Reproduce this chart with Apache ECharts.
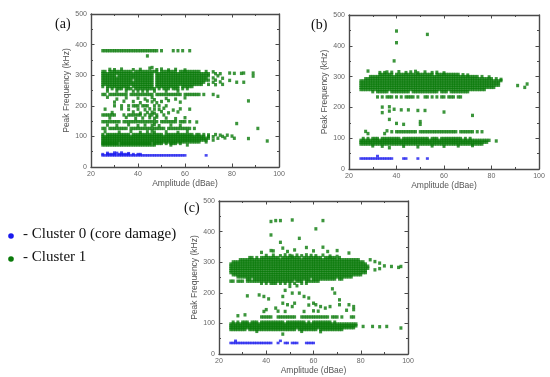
<!DOCTYPE html>
<html>
<head>
<meta charset="utf-8">
<script src="https://cdn.jsdelivr.net/npm/echarts@6/dist/echarts.min.js"></script>
<style>
html,body{margin:0;padding:0;background:#fff;}
#chart{width:550px;height:377px;}
</style>
</head>
<body>
<div id="chart"></div>
<script>
// ---------------- data ----------------
// Axis ticks
const xTicks = [20, 40, 60, 80, 100];
const yTicks = [0, 100, 200, 300, 400, 500];
const xTitle = 'Amplitude (dBae)';
const yTitle = 'Peak Frequency (kHz)';
const panelNames = ['(a)', '(b)', '(c)'];
const clusterNames = ['- Cluster 0 (core damage)', '- Cluster 1'];

// Dense hit rows: [frequency kHz, first amplitude dB, occupancy per 1 dB ('#' = hit, '.' = none, spaces ignored)]
const aGreenRows = [
  [380,25,"##### ##### ##### ##### ####"],
  [312,25,"##.## ##### ###.# ##### ####. ##### ##.## ##### ##"],
  [305,25,"##### ##### ##### ##### ##.## ##### ##### ##### ##### #"],
  [298,25,"##### #.### ##### ##### ##.## ##### ##### ##### ##### #"],
  [291,25,"##### ##### ##### ##### ##.## ##### ##### ##### #####"],
  [284,25,"##### ##### ###.# ##### ##.## ##### ##### ##### ##### #"],
  [277,25,"##### ##### ##### ##### ##.## ##### ##### ##### ####"],
  [270,25,"##### ##### ##### ##### ##.## ##### ##### ##### ###"],
  [263,25,"#.### ##### ##.## ##### ##.## ##### ###.# ####"],
  [256,27,"#.#.# ##.## #.### ##### #.#.# ##.## #.#.#"],
  [248,27,"#...# ...#. .#.#. #.#.. #.... #.... #"],
  [237,25,"##.## ##### #.### ##### ##.## ##### ####. ##### ##.#. ..#"],
  [200,30,"#..#. .#.## #.### ..#.# ..#"],
  [170,25,"##### #...# .#### ##.#. ##.#. .#"],
  [148,25,"##### ###.# ##### ##### ####. ##### ##.## #"],
  [126,25,"##.## ##### #.### ##### ##### ##.## ##### ###"],
  [106,25,"#.### ##### ##.## ##### ##### #.### ##### ####. ##"],
  [100,25,"##### ##### ##### ##### ##### ##### ##### ##### ####"],
  [94,25,"##### ##### ##### ##### ##### ##### ##### ##### ##### #"],
  [88,25,"##### ##### ##### ##### ##### ##### ##### ##### #####"],
  [82,25,"##### ##### ##### ##### ##### ##### ##### ##### ##"],
  [77,25,"##### ##.## ##### ##### #.### #.#.# ##.#"],
  [72,25,"##### ##### ##### ##### ###"]
];
const aGreenPoints = [
  [50,380],[55,380],[57,380],[59,380],[62,380],[44,363],
  [28,319],[30,318],[33,320],[38,318],[41,319],[45,323],[46,325],[48,318],[50,320],[53,317],[56,319],[60,317],
  [69,312],[72,311],[73,305],[75,305],[79,307],[81,306],[84,306],[85,307],[89,307],[74,298],[89,297],
  [72,291],[76,290],[73,284],[79,283],[72,277],[75,278],[82,277],[85,277],[70,270],[73,269],[76,270],[87,216],
  [27,228],[31,222],[35,226],[40,225],[43,222],[46,227],[47,220],[52,224],[56,222],[60,226],[74,231],
  [30,212],[34,215],[38,214],[41,210],[44,216],[46,213],[48,210],[50,214],[53,217],[58,212],
  [26,189],[33,190],[36,188],[40,189],[43,187],[45,190],[47,189],[49,188],[51,192],[55,186],[58,190],[62,189],
  [29,178],[38,180],[41,176],[44,178],[46,179],[47,176],[50,181],[53,177],[57,180],
  [28,160],[35,162],[39,158],[42,160],[45,161],[47,159],[48,163],[52,160],[56,158],[60,161],
  [62,148],[65,147],
  [27,137],[31,136],[36,138],[40,135],[43,137],[46,136],[47,139],[49,135],[54,137],[58,136],[82,142],
  [64,126],[91,126],
  [26,115],[32,114],[37,116],[41,113],[44,115],[46,117],[47,114],[52,115],[57,113],[61,116],
  [68,106],[70,105],[73,106],[75,104],[78,104],[70,100],[72,99],[76,100],[80,101],
  [74,94],[77,95],[81,94],[87,93],[72,88],[69,82],[95,85],[54,72],[61,72]
];
const aBlueRows = [
  [38,25,"##### ##### ##### ##### ##### ##### ##### #"],
  [42,25,"#.### #.### ##.#. ##"]
];
const aBluePoints = [[69,38],[27,46],[30,47],[31,46],[33,47],[36,45]];

const bGreenRows = [
  [307,33,"##### #.### ##### ##### ###.# ##### ####"],
  [300,29,"##### ##### ##### ##### ##### ##### ##### ##### ##### #"],
  [293,27,"##### ##### ##### ##### ##### ##### ##### ##### ##### ##### ####"],
  [286,25,"##### ##### ##### ##### ##### ##### ##### ##### ##### ##### ##### ####"],
  [279,25,"##### ##### ##### ##### ##### ##### ##### ##### ##### ##### ##### ####"],
  [272,25,"##### ##### ##### ##### ##### ##### ##### ##### ##### ##### ##### ####"],
  [265,25,"##### ##### ##### ##### ##### ##### ##### ##### ##### ##### ##### ##"],
  [258,25,"##### ##### ##### ##### ##### ##### ##### ##### ##### ##### ###"],
  [251,30,"#.### ##.## ##### #.### ##### ###.# ##.## ##### #"],
  [234,32,"#.#.# ##.#. #.### #.#.. ##.#. #.##. ###.# #"],
  [121,38,"#.### ##### #.### ##### ##### ###.# ##### .#.#."],
  [99,26,"#.#.# ##.## ##### #.### ##### ###.# ##.## ##### ##.#. #"],
  [93,25,"##### ##### ##### ##### ##### ##### ##### ##### ##### ##### #####"],
  [87,25,"##### ##### ##### ##### ##### ##### ##### ##### ##### ##### ####"],
  [81,25,"##### ##### ##### ##### ##### ##### ##### ##### ##### ##### ##"]
];
const bGreenPoints = [
  [40,448],[40,410],[53,437],[39,351],[28,318],[35,313],
  [33,313],[36,315],[38,314],[41,316],[44,313],[46,315],[48,317],[49,312],[52,315],[55,313],[57,314],[60,312],
  [68,306],[70,305],[76,300],[79,299],[82,293],[84,291],[84,287],[95,276],[91,271],[94,265],
  [34,201],[37,188],[39,194],[42,192],[45,192],[49,190],[52,190],[60,185],[72,174],[34,183],
  [37,161],[40,148],[43,145],[50,154],[50,145],[37,202],
  [27,122],[28,115],[35,115],[36,124],
  [82,91],
  [30,75],[34,74],[37,69],[43,74],[49,72],[55,75],[60,74],[66,75],[72,76]
];
const bBlueRows = [
  [34,25,"##### ##### ####"]
];
const bBluePoints = [[43,34],[44,34],[49,34],[53,34],[32,42]];

const cGreenRows = [
  [315,33,"##.#. ##### ###.# ##### ##.## ##### #.### ##.#."],
  [308,29,"##### ##### ##### ##### ##### ##### ##### ##### ##### ##### #"],
  [301,26,"##### ##### ##### ##### ##### ##### ##### ##### ##### ##### ##### #"],
  [294,25,"##### ##### ##### ##### ##### ##### ##### ##### ##### ##### ##### ###"],
  [287,25,"##### ##### ##### ##### ##### ##### ##### ##### ##### ##### ##### ####"],
  [280,25,"##### ##### ##### ##### ##### ##### ##### ##### ##### ##### ##### ####"],
  [273,25,"##### ##### ##### ##### ##### ##### ##### ##### ##### ##### ##### ###"],
  [266,25,"##### ##### ##### ##### ##### ##### ##### ##### ##### ##### ##### ###"],
  [259,26,"##### ##### ##### ##### ##### ##### ##### ##### ##### ##### #####"],
  [252,28,"##### ##### ##### ##### ##### ##### ##### ##### ##### ####"],
  [245,32,"##.## ##### ##### ##### ##### ##.## ##### ###.# #"],
  [238,25,"##.## #.### ##### ##### ##### ##.## #.### ###"],
  [231,38,"#.#.# ##.#. #.#.# ..#.# ."],
  [121,38,"##### ..### ##### ..### ##### ####. ###.# ...##"],
  [104,26,"#.#.# ##.## #.### ##### ##.## ##### #.#.# ##### ##.#. ."],
  [98,25,"##### ##### ##### ##### ##### ##### ##### ##### ##### ##### ####"],
  [92,25,"##### ##### ##### ##### ##### ##### ##### ##### ##### ##### ####"],
  [86,25,"##### ##### ##### ##### ##### ##### ##### ##### ##### ##### ###"],
  [80,25,"##### ##.## ##### ##### ##### ###.# ##### ##.## ##### ###"]
];
const cGreenPoints = [
  [42,433],[44,436],[46,436],[51,438],[64,436],[61,409],[42,389],[46,365],[54,378],[64,349],
  [38,332],[42,338],[43,337],[47,346],[49,335],[52,340],[57,348],[60,337],[66,335],[70,338],[75,330],
  [40,322],[43,323],[46,321],[48,324],[50,322],[51,320],[53,323],[55,321],[57,324],[59,322],[61,321],[64,323],[67,320],[70,319],
  [84,308],[86,302],[88,297],[90,288],[93,286],[96,283],[97,286],[86,275],[88,279],
  [32,190],[37,193],[39,188],[41,180],[40,145],[47,166],[49,161],[51,155],[52,166],[54,199],[56,188],[58,183],
  [60,166],[61,161],[63,155],[65,150],[47,188],[48,208],[51,199],[50,221],[53,223],[67,155],[44,150],[58,160],
  [62,140],[69,199],[71,177],[71,161],[75,161],[77,155],[68,213],[45,140],
  [28,125],[31,128],[39,139],[48,139],[56,139],[60,141],[74,143],[77,145],
  [81,90],[85,90],[88,89],[91,90],[97,85],[47,65],[36,74],[55,74],[63,73]
];
const cBlueRows = [
  [36,25,"##### ##### ##### ###.. #..## .###. ..### #"]
];
const cBluePoints = [[27,43],[46,43]];

// ---------------- build ----------------
function decodeRows(rows) {
  const out = [];
  rows.forEach(function (r) {
    const f = r[0], a0 = r[1], pat = r[2];
    let i = 0;
    for (const ch of pat) {
      if (ch === ' ') continue;
      if (ch === '#') out.push([a0 + i, f]);
      i++;
    }
  });
  return out;
}

const panels = [
  { green: decodeRows(aGreenRows).concat(aGreenPoints), blue: decodeRows(aBlueRows).concat(aBluePoints) },
  { green: decodeRows(bGreenRows).concat(bGreenPoints), blue: decodeRows(bBlueRows).concat(bBluePoints) },
  { green: decodeRows(cGreenRows).concat(cGreenPoints), blue: decodeRows(cBlueRows).concat(cBluePoints) }
];

const GREEN = '#0a7a0a';
const BLUE = '#1a1aee';
const AXIS = '#4a4a4a';
const LABEL = '#666';

const grids = [
  { left: 91, top: 14, width: 188, height: 153 },
  { left: 349, top: 15, width: 190, height: 154 },
  { left: 219, top: 201, width: 189, height: 153 }
];

const xMin = xTicks[0], xMax = xTicks[xTicks.length - 1], xInt = xTicks[1] - xTicks[0];
const yMin = yTicks[0], yMax = yTicks[yTicks.length - 1], yInt = yTicks[1] - yTicks[0];

const xAxes = [], yAxes = [], series = [];
grids.forEach(function (g, i) {
  const common = {
    gridIndex: i, type: 'value',
    splitLine: { show: false },
    axisLine: { show: true, onZero: false, lineStyle: { color: AXIS, width: 1.4 } },
    axisTick: { show: true, inside: true, length: 3.5, lineStyle: { color: AXIS, width: 1 } },
    minorTick: { show: true, splitNumber: 2, length: 2, lineStyle: { color: AXIS, width: 1 } },
    minorSplitLine: { show: false }
  };
  xAxes.push(Object.assign({}, common, {
    position: 'bottom', min: xMin, max: xMax, interval: xInt,
    axisLabel: { fontSize: 7, color: LABEL, margin: 4, fontFamily: 'Liberation Sans' },
    name: xTitle, nameLocation: 'middle', nameGap: 10,
    nameTextStyle: { fontSize: 8.5, color: '#555', fontFamily: 'Liberation Sans' }
  }));
  xAxes.push(Object.assign({}, common, {
    position: 'top', min: xMin, max: xMax, interval: xInt,
    axisLabel: { show: false }
  }));
  yAxes.push(Object.assign({}, common, {
    position: 'left', min: yMin, max: yMax, interval: yInt,
    axisLabel: { fontSize: 7, color: LABEL, margin: 4, fontFamily: 'Liberation Sans' },
    name: yTitle, nameLocation: 'middle', nameGap: 13,
    nameTextStyle: { fontSize: 8.5, color: '#555', fontFamily: 'Liberation Sans' }
  }));
  yAxes.push(Object.assign({}, common, {
    position: 'right', min: yMin, max: yMax, interval: yInt,
    axisLabel: { show: false }
  }));
  series.push({
    type: 'scatter', xAxisIndex: 2 * i, yAxisIndex: 2 * i,
    data: panels[i].green, symbol: 'rect', symbolSize: [3, 3.4],
    itemStyle: { color: GREEN }, silent: true
  });
  series.push({
    type: 'scatter', xAxisIndex: 2 * i, yAxisIndex: 2 * i,
    data: panels[i].blue, symbol: 'rect', symbolSize: [3, 2.6],
    itemStyle: { color: BLUE }, silent: true
  });
});

const serif = 'Liberation Serif';
const graphic = [
  { type: 'text', left: 55, top: 17, style: { text: panelNames[0], font: '14px "' + serif + '"', fill: '#111' } },
  { type: 'text', left: 311, top: 18, style: { text: panelNames[1], font: '14px "' + serif + '"', fill: '#111' } },
  { type: 'text', left: 184, top: 201, style: { text: panelNames[2], font: '14px "' + serif + '"', fill: '#111' } },
  { type: 'circle', shape: { cx: 11, cy: 236, r: 2.8 }, style: { fill: BLUE } },
  { type: 'circle', shape: { cx: 11, cy: 259, r: 2.8 }, style: { fill: GREEN } },
  { type: 'text', left: 23, top: 227, style: { text: clusterNames[0], font: '15px "' + serif + '"', fill: '#111' } },
  { type: 'text', left: 23, top: 250, style: { text: clusterNames[1], font: '15px "' + serif + '"', fill: '#111' } }
];

const chart = echarts.init(document.getElementById('chart'), null, { renderer: 'canvas' });
chart.setOption({
  animation: false,
  backgroundColor: '#fff',
  grid: grids,
  xAxis: xAxes,
  yAxis: yAxes,
  series: series,
  graphic: graphic
});
</script>
</body>
</html>
